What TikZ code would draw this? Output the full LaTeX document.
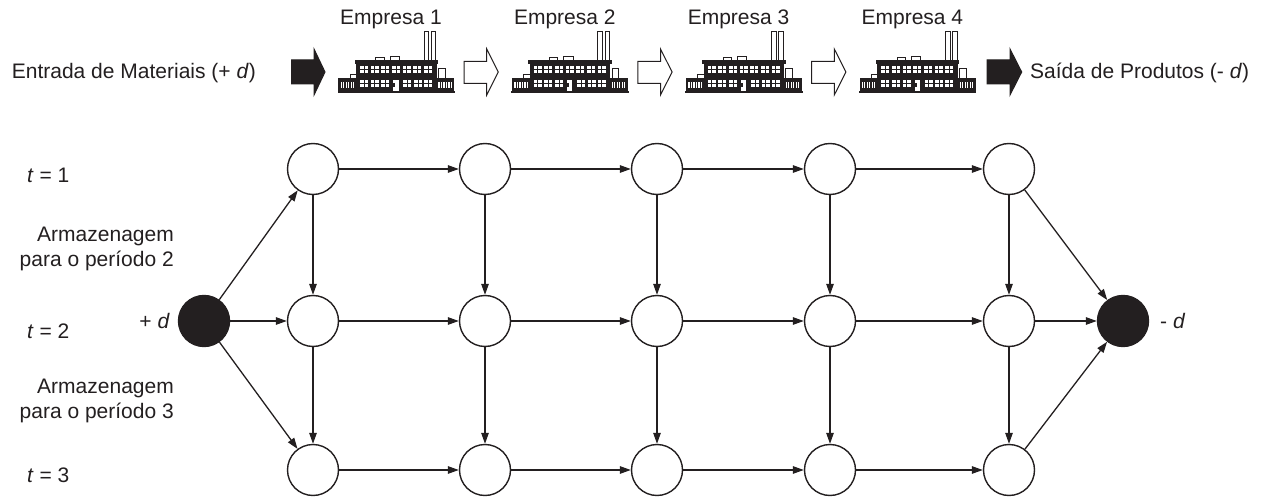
\documentclass[tikz,border=0pt]{standalone}
\usepackage{fontspec}
\setmainfont{Liberation Sans}
\usetikzlibrary{arrows.meta}
\definecolor{ink}{RGB}{35,31,32}
\tikzset{
  factory/.pic={
    \begin{scope}[scale=1/3]
      % chimneys
      \draw[ink,line width=1pt,fill=white] (267,12) rectangle (281,100);
      \draw[ink,line width=1pt,fill=white] (289,12) rectangle (302,100);
      % roof boxes and small towers
      \draw[ink,line width=1pt,fill=white] (122,89) rectangle (147,99);
      \draw[ink,line width=1pt,fill=white] (165,85) rectangle (193,99);
      \draw[ink,line width=1pt,fill=white] (310,122) rectangle (330,152);
      \draw[ink,line width=1pt,fill=white] (45,140) rectangle (68,152);
      % main body
      \fill[ink] (63,97) rectangle (305,190);
      \fill[ink] (59,96) rectangle (309,107);
      \fill[ink] (10,150) rectangle (65,192);
      \fill[ink] (303,150) rectangle (358,192);
      \fill[ink] (8,188) rectangle (360,196);
      % upper windows
      \foreach \wx in {75,107,139,171,203,235,267}{
        \fill[white] (\wx,114) rectangle ++(24,20);
        \draw[ink,line width=0.8pt] (\wx+12,114) -- ++(0,20) (\wx,124) -- ++(24,0);
      }
      % lower windows
      \foreach \wx in {75,107,139,205,237,267}{
        \fill[white] (\wx,157) rectangle ++(24,20);
        \draw[ink,line width=0.8pt] (\wx+12,157) -- ++(0,20) (\wx,167) -- ++(24,0);
      }
      % door
      \fill[white] (175,155) rectangle (191,190);
      \fill[ink] (175,166) rectangle (181,176);
      % wing windows
      \foreach \wx in {17,32,47,310,325,340}{
        \fill[white] (\wx,162) rectangle ++(10,19);
        \draw[ink,line width=0.8pt] (\wx+5,162) -- ++(0,19);
      }
    \end{scope}
  }
}
\begin{document}
\begin{tikzpicture}[x=1pt,y=-1pt,
  every node/.style={font=\fontsize{21}{25}\selectfont,text=ink},
  st/.style={circle,draw=ink,line width=1.4pt,minimum size=51pt,inner sep=0pt,fill=white},
  bl/.style={circle,draw=ink,fill=ink,line width=1.4pt,minimum size=51pt,inner sep=0pt},
  edge/.style={draw=ink,line width=1.3pt,-{Triangle[length=11pt,width=7.5pt]}},
  lbl/.style={inner sep=0pt},
  blk/.style={draw=ink,fill=ink,line width=1pt,line join=miter},
  hol/.style={draw=ink,fill=white,line width=1pt,line join=miter}
]
\useasboundingbox (0,0) rectangle (1262,497);

% ---------- top band ----------
\node[lbl,anchor=base east] (entrada) at (256,79) {Entrada de Materiais (+ \textit{d})};
\node[lbl,anchor=base west] (saida) at (1030,79) {Saída de Produtos (- \textit{d})};

\foreach \k/\fx in {1/335,2/508.8,3/682.6,4/856.4}{
  \pic at (\fx,28) {factory};
  \node[lbl,anchor=base west] (emp\k) at (\fx+5,25) {Empresa \k};
}

% block arrows
\draw[blk] (291.7,60) -- (314,60) -- (314,49) -- (325,72) -- (314,95) -- (314,84) -- (291.7,84) -- cycle;
\foreach \ax in {464,637.8,811.6}{
  \draw[hol] (\ax,61.5) -- (\ax+22.7,61.5) -- (\ax+22.7,49) -- (\ax+34.3,72) -- (\ax+22.7,95) -- (\ax+22.7,83.5) -- (\ax,83.5) -- cycle;
}
\draw[blk] (987,60) -- (1010,60) -- (1010,49) -- (1021.7,72) -- (1010,95) -- (1010,84) -- (987,84) -- cycle;

% ---------- network ----------
\foreach \x [count=\i] in {313,485,657,830,1009}{
  \foreach \y [count=\r] in {169,321,470}{
    \node[st] (n\i\r) at (\x,\y) {};
  }
}
\node[bl] (src) at (204,321) {};
\node[bl] (snk) at (1123,321) {};

\foreach \r in {1,2,3}{
  \foreach \i/\j in {1/2,2/3,3/4,4/5}{
    \draw[edge] (n\i\r) -- (n\j\r);
  }
  \draw[edge] (src) -- (n1\r);
  \draw[edge] (n5\r) -- (snk);
}
\foreach \i in {1,...,5}{
  \draw[edge] (n\i1) -- (n\i2);
  \draw[edge] (n\i2) -- (n\i3);
}

% labels
\node[lbl,anchor=west] (t1) at (27,175) {\textit{t} = 1};
\node[lbl,anchor=west] (t2) at (27,331) {\textit{t} = 2};
\node[lbl,anchor=west] (t3) at (27,475) {\textit{t} = 3};
\node[lbl,anchor=east,align=right] (arm2) at (174,249) {Armazenagem\\para o período 2};
\node[lbl,anchor=east,align=right] (arm3) at (174,401) {Armazenagem\\para o período 3};
\node[lbl,anchor=east] (pd) at (170,321) {+ \textit{d}};
\node[lbl,anchor=west] (md) at (1160,321) {- \textit{d}};
\end{tikzpicture}
\end{document}
